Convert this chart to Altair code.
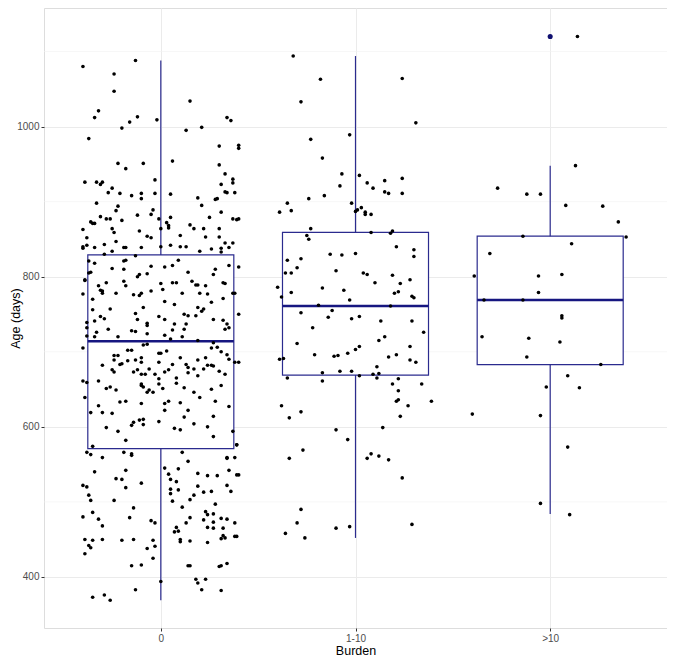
import altair as alt
import pandas as pd

groups = ["0", "1-10", ">10"]
q1 = [571, 669, 683]
med = [714, 761, 769]
q3 = [829, 859, 854]
whisker_low = [369, 452, 484]
whisker_high = [1088, 1094, 948]
outlier_group = [">10"]
outlier_age = [1120]

y_major = [400, 600, 800, 1000]
y_minor = [500, 700, 900, 1100]

# (age in days, horizontal jitter in category units)
g0_points = [
    (1088,-0.13),(1080,-0.40),(1070,-0.24),(1047,-0.24),(1034,0.15),(1021,-0.32),(1012,-0.34),(1012,0.34),
    (1008,0.36),(1009,-0.02),(1013,-0.12),(1006,-0.16),(998,-0.20),(999,0.21),(995,0.13),(984,-0.37),
    (974,0.30),(954,0.06),(951,-0.22),(951,-0.09),(949,0.30),(944,-0.18),(937,0.33),(929,-0.03),(930,0.37),
    (926,-0.39),(926,-0.33),(926,-0.30),(923,-0.31),(923,0.31),(925,0.37),(918,-0.25),(912,-0.27),(911,-0.21),
    (911,-0.10),(911,-0.03),(910,0.05),(908,-0.15),(912,0.34),(912,0.38),(913,0.33),(905,0.19),(904,-0.10),
    (904,0.29),(903,0.28),(898,-0.33),(894,-0.22),(895,0.21),(889,-0.04),(888,-0.23),(883,-0.05),(879,0.25),
    (886,0.31),(882,-0.12),(875,-0.20),(873,-0.36),(871,-0.35),(871,-0.34),(880,-0.31),(877,-0.28),(877,-0.26),
    (863,-0.40),(864,-0.25),(859,-0.24),(852,-0.38),(861,-0.11),(854,-0.07),(852,-0.05),(839,-0.10),(877,-0.01),
    (864,0.00),(872,0.03),(879,0.05),(868,0.04),(865,0.04),(855,0.10),(869,0.15),(864,0.17),(864,0.22),
    (864,0.30),(853,0.30),(877,0.37),(876,0.39),(845,0.33),(838,0.31),(840,-0.40),(838,-0.40),(842,-0.38),
    (839,-0.34),(843,-0.29),(847,-0.23),(839,-0.19),(839,-0.18),(834,-0.25),(830,-0.29),(828,-0.13),(840,0.00),
    (842,0.05),(840,0.10),(840,0.13),(837,0.26),(834,0.20),(833,0.31),(839,0.35),(845,0.37),(853,0.23),
    (821,-0.37),(818,-0.34),(806,-0.36),(805,-0.37),(795,-0.39),(796,-0.39),(777,-0.40),(770,-0.35),(788,-0.32),
    (782,-0.31),(792,-0.28),(811,-0.25),(821,-0.19),(822,-0.18),(810,-0.19),(794,-0.19),(788,-0.18),(778,-0.23),
    (757,-0.26),(781,-0.30),(778,-0.30),(776,-0.14),(775,-0.11),(778,-0.10),(800,-0.12),(803,-0.11),(804,-0.07),
    (814,-0.05),(791,0.00),(783,0.01),(781,-0.05),(813,0.02),(815,0.06),(822,0.09),(792,0.06),(792,0.08),
    (778,0.11),(806,0.14),(794,0.16),(789,0.18),(789,0.19),(788,0.23),(803,0.27),(810,0.28),(778,0.20),
    (777,0.24),(766,0.26),(792,0.32),(791,0.33),(815,0.35),(778,0.37),(778,0.38),(771,0.32),(756,-0.35),
    (747,-0.31),(744,-0.29),(739,-0.38),(741,-0.34),(751,-0.13),(743,-0.12),(759,-0.09),(738,-0.07),(747,-0.01),
    (767,0.02),(763,0.07),(750,0.12),(748,0.14),(748,0.18),(759,0.19),(754,0.21),(757,0.22),(743,0.27),
    (742,0.32),(737,0.34),(737,0.13),(743,0.02),(737,0.07),(975,0.40),(971,0.40),(877,0.40),(813,0.40),(750,0.40),
    (732,-0.38),(726,-0.33),(720,-0.34),(730,-0.27),(720,-0.22),(728,-0.15),(727,-0.13),(735,-0.07),(724,-0.07),
    (722,0.02),(717,0.05),(729,0.06),(720,0.11),(730,0.12),(715,0.19),(730,0.33),(732,0.35),(721,-0.38),
    (705,-0.40),(682,-0.30),(695,-0.24),(695,-0.22),(689,-0.24),(683,-0.21),(684,-0.20),(688,-0.17),(702,-0.15),
    (702,-0.17),(689,-0.13),(692,-0.10),(686,-0.10),(709,-0.09),(710,-0.07),(677,-0.06),(698,-0.01),(698,0.00),
    (686,-0.01),(701,0.03),(683,0.06),(692,0.10),(683,0.13),(679,0.14),(689,0.19),(692,0.23),(705,0.26),
    (712,0.27),(706,0.29),(700,0.31),(690,0.35),(696,0.34),(686,0.38),(676,-0.25),(673,-0.24),(673,-0.14),
    (676,-0.12),(670,-0.10),(670,-0.08),(670,-0.03),(673,0.02),(676,0.04),(672,0.14),(677,0.17),(668,0.19),
    (677,0.22),(682,0.24),(682,0.26),(681,0.27),(670,0.33),(674,0.30),(661,-0.40),(659,-0.38),(661,-0.32),
    (651,-0.28),(653,-0.26),(649,-0.23),(657,-0.10),(653,-0.09),(655,-0.10),(646,-0.07),(649,-0.06),(646,-0.04),
    (657,-0.01),(664,-0.01),(651,0.01),(658,0.08),(665,0.08),(652,0.12),(646,0.17),(639,0.20),(650,0.26),
    (634,0.28),(655,0.31),(639,-0.39),(628,-0.32),(633,-0.21),(634,-0.18),(631,-0.10),(631,0.02),(622,0.02),
    (634,0.04),(632,0.10),(619,-0.36),(619,-0.30),(618,-0.25),(599,-0.28),(594,-0.22),(582,-0.18),(602,-0.15),
    (606,-0.14),(609,-0.11),(610,-0.09),(603,-0.09),(607,-0.01),(598,0.07),(596,0.10),(613,0.12),(622,0.14),
    (604,0.17),(614,0.27),(587,0.27),(600,0.24),(627,0.35),(594,0.37),(576,0.39),
    (574,-0.35),(566,-0.38),(563,-0.36),(559,-0.30),(540,-0.34),(566,-0.19),(562,-0.15),(564,-0.15),(542,-0.18),
    (531,-0.23),(530,-0.20),(545,0.02),(537,0.04),(544,0.09),(566,0.11),(554,0.14),(530,0.05),(527,0.08),
    (517,0.05),(511,0.05),(501,0.06),(493,0.11),(516,0.09),(503,0.15),(509,0.17),(538,0.19),(535,0.24),
    (535,0.29),(514,0.26),(521,0.19),(513,0.22),(559,0.34),(558,0.34),(559,0.38),(542,0.35),(522,0.34),
    (514,0.36),(536,0.39),(497,0.28),(522,-0.40),(520,-0.38),(509,-0.37),(502,-0.36),(502,-0.24),(492,-0.14),
    (525,-0.10),(519,-0.18),(480,-0.40),(486,-0.35),(477,-0.32),(468,-0.30),(479,-0.16),(475,-0.05),(472,-0.03),
    (450,-0.39),(442,-0.37),(439,-0.36),(449,-0.35),(450,-0.30),(449,-0.20),(450,-0.14),(438,-0.07),(449,-0.04),
    (441,-0.03),(425,-0.04),(415,-0.15),(416,-0.10),(431,-0.39),(466,0.08),(461,0.09),(460,0.07),(450,0.10),
    (447,0.10),(448,0.15),(472,0.13),(479,0.15),(476,0.22),(487,0.23),(483,0.24),(466,0.24),(473,0.27),
    (465,0.27),(484,0.27),(478,0.31),(477,0.34),(465,0.32),(455,0.32),(452,0.33),(451,0.31),(446,0.24),
    (472,0.38),(454,0.38),(394,0.00),(383,-0.13),(373,-0.35),(376,-0.29),(369,-0.26),(415,0.15),(415,0.14),
    (392,0.19),(397,0.18),(383,0.21),(397,0.23),(414,0.30),(415,0.31),(418,0.34),(382,0.31),
    (686,0.40),(576,0.39),(536,0.40),(454,0.39),
]

g1_points = [
    (1094,-0.32),(1063,-0.18),(1064,0.24),(1033,-0.28),(1005,0.31),(983,-0.23),(989,-0.03),(958,-0.17),
    (937,-0.07),(935,0.02),(925,0.06),(918,0.09),(928,0.15),(931,0.24),(913,0.15),(911,0.17),(911,0.24),
    (921,-0.08),(908,-0.16),(904,-0.24),(898,-0.35),(886,-0.39),(888,-0.33),(898,-0.02),(887,0.00),(889,0.01),
    (892,0.03),(886,0.05),(883,0.05),(883,0.08),(864,-0.23),(855,-0.25),(850,-0.24),(859,0.08),(858,0.18),
    (861,0.19),(840,0.21),(836,0.30),(827,0.30),(822,-0.35),(824,-0.28),(805,-0.36),(805,-0.33),(812,-0.30),
    (830,-0.13),(829,-0.07),(831,0.00),(808,-0.10),(805,0.04),(803,0.06),(792,0.10),(802,0.19),(791,0.23),
    (796,0.28),(786,-0.40),(773,-0.38),(779,-0.33),(785,-0.17),(782,-0.06),(769,-0.03),(778,0.20),(780,0.22),
    (774,0.29),(772,0.30),(762,-0.19),(761,0.18),(752,-0.28),(755,-0.12),(746,-0.14),(744,-0.02),(747,0.02),
    (741,0.13),(741,0.29),
    (732,-0.22),(726,0.35),(711,-0.30),(715,0.12),(720,0.15),(707,0.28),(696,-0.21),(690,-0.39),(691,-0.37),
    (694,-0.11),(695,-0.09),(698,-0.04),(703,0.00),(707,0.02),(693,0.17),(696,0.21),(689,0.28),(686,0.31),
    (680,0.11),(672,-0.17),(674,-0.08),(674,-0.02),(670,0.09),(671,0.12),(665,0.11),(668,0.02),(665,-0.35),
    (661,-0.17),(664,0.22),(657,0.19),(657,0.34),(648,0.22),(634,0.21),(636,0.22),(628,0.27),(634,0.39),
    (614,0.23),(628,-0.38),(612,-0.34),(620,-0.28),(596,-0.10),(583,-0.04),(599,0.14),(569,-0.27),(558,-0.34),
    (558,0.06),(564,0.08),(561,0.12),(556,0.17),(532,0.24),(490,-0.28),(472,-0.30),(458,-0.36),(452,-0.26),
    (465,-0.10),(467,-0.03),(470,0.29),
]

g2_points = [
    (1120,0.14),(948,0.13),(918,-0.27),(910,-0.12),(910,-0.05),(895,0.08),(894,0.27),(873,0.35),(853,0.39),
    (854,-0.14),(844,0.11),(831,-0.31),(801,-0.39),(801,-0.06),(803,0.06),(779,-0.06),(769,-0.34),(769,-0.14),
    (748,0.06),(745,0.06),(720,-0.35),(718,-0.11),(713,0.05),(693,-0.12),(683,0.26),(668,0.09),(653,-0.02),
    (652,0.15),(617,-0.40),(615,-0.05),(573,0.09),(498,-0.05),(483,0.10),
]

# ---- tables ----
rows = []
for gi, pts in enumerate([g0_points, g1_points, g2_points]):
    for age, jit in pts:
        rows.append({"group": groups[gi], "pos": gi + 1, "jitter": jit, "age": age})
pts_df = pd.DataFrame(rows)

box_df = pd.DataFrame({
    "group": groups, "pos": [1, 2, 3], "q1": q1, "med": med, "q3": q3,
    "lo": whisker_low, "hi": whisker_high,
})
out_df = pd.DataFrame({"group": outlier_group, "age": outlier_age})
out_df["pos"] = out_df["group"].map({g: i + 1 for i, g in enumerate(groups)})
minor_df = pd.DataFrame({"v": y_minor})

NAVY = "#2b2b8e"
FONT = "Liberation Sans"

label_expr = " : ".join(
    [f"datum.value == {i + 1} ? '{g}'" for i, g in enumerate(groups[:-1])] + [f"'{groups[-1]}'"]
)

xscale = alt.Scale(domain=[0.4, 3.6], nice=False, zero=False)
yscale = alt.Scale(domain=[332, 1158], nice=False, zero=False)

xaxis = alt.Axis(values=[1, 2, 3], labelExpr=label_expr, title="Burden", grid=True,
                 gridColor="#EBEBEB", gridWidth=1, tickColor="#333333", tickSize=3,
                 labelColor="#4D4D4D", labelFontSize=10, labelFont=FONT, labelPadding=2,
                 titleFont=FONT, titleFontSize=12.5, titleFontWeight="normal", titleColor="#000000",
                 titlePadding=1, domain=False)
yaxis = alt.Axis(values=y_major, format="d", title="Age (days)", grid=True, gridColor="#EBEBEB",
                 gridWidth=1, tickColor="#333333", tickSize=3, labelColor="#4D4D4D", labelFontSize=10,
                 labelFont=FONT, labelPadding=2, titleFont=FONT, titleFontSize=12.5,
                 titleFontWeight="normal", titleColor="#000000", titleX=-29, titleBaseline="middle",
                 titleAngle=270, domain=False)

minor = alt.Chart(minor_df).mark_rule(color="#F2F2F2", strokeWidth=0.6).encode(
    y=alt.Y("v:Q", scale=yscale, axis=yaxis)
)

base_box = alt.Chart(box_df).transform_calculate(
    left="datum.pos - 0.375", right="datum.pos + 0.375"
)

boxes = base_box.mark_rect(fill="white", stroke=NAVY, strokeWidth=1.2).encode(
    x=alt.X("left:Q", scale=xscale, axis=xaxis),
    x2="right:Q",
    y=alt.Y("q1:Q", scale=yscale),
    y2="q3:Q",
)
upper = base_box.mark_rule(color=NAVY, strokeWidth=1.2).encode(
    x=alt.X("pos:Q", scale=xscale), y=alt.Y("q3:Q", scale=yscale), y2="hi:Q"
)
lower = base_box.mark_rule(color=NAVY, strokeWidth=1.2).encode(
    x=alt.X("pos:Q", scale=xscale), y=alt.Y("lo:Q", scale=yscale), y2="q1:Q"
)
median = base_box.mark_rule(color="#161680", strokeWidth=2.3).encode(
    x=alt.X("left:Q", scale=xscale), x2="right:Q", y=alt.Y("med:Q", scale=yscale)
)
outliers = alt.Chart(out_df).mark_circle(color="#101070", size=26, opacity=1).encode(
    x=alt.X("pos:Q", scale=xscale), y=alt.Y("age:Q", scale=yscale)
)
points = alt.Chart(pts_df).transform_calculate(
    xj="datum.pos + datum.jitter"
).mark_circle(color="black", size=13, opacity=1).encode(
    x=alt.X("xj:Q", scale=xscale), y=alt.Y("age:Q", scale=yscale)
)

chart = alt.layer(minor, boxes, upper, lower, median, outliers, points).properties(
    width=623, height=620,
    autosize=alt.AutoSizeParams(type="none"),
    padding={"left": 36, "top": 0, "right": 0, "bottom": 30},
).configure_view(stroke="#8A8A8A", strokeWidth=1).configure(background="white")

chart.save("out.html", embed_options={"renderer": "svg", "actions": False})
